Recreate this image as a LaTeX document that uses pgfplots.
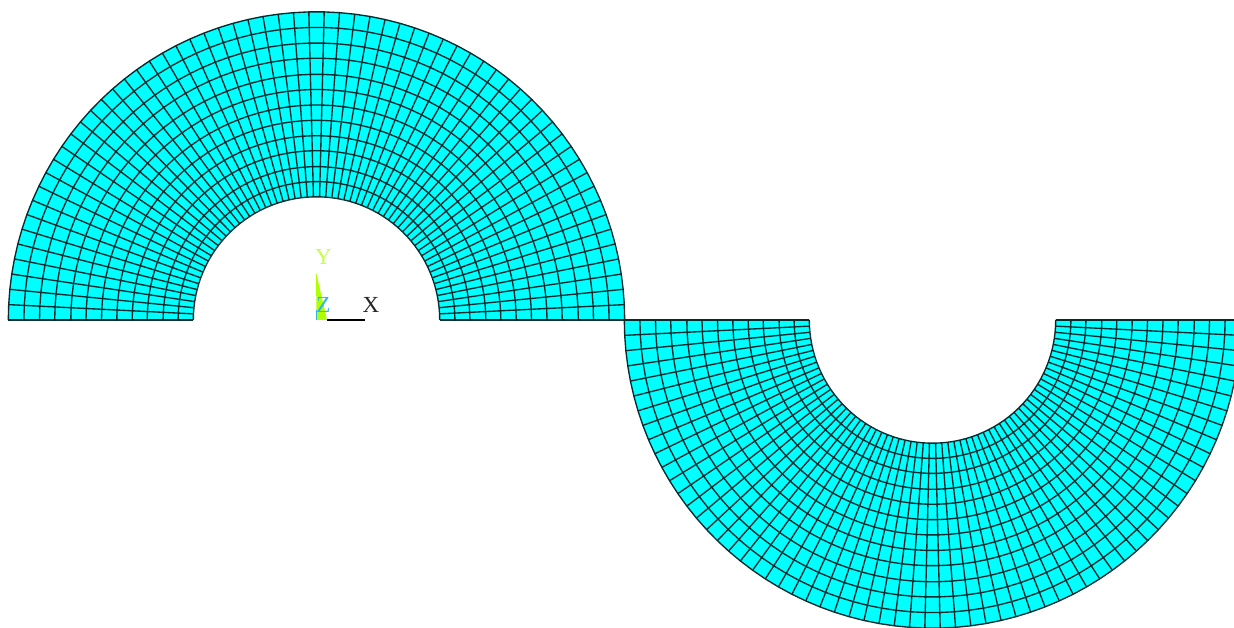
\documentclass[border=0pt]{standalone}
\usepackage{pgfplots}
\usepackage{pgfplotstable}
\usepackage{fontspec}
\setmainfont{Liberation Serif}
\pgfplotsset{compat=1.18}

% element boundaries along the half ring, degrees (63 elements)
\pgfplotstableread{
a
0
2.857
5.714
8.571
11.429
14.286
17.143
20
22.857
25.714
28.571
31.429
34.286
37.143
40
42.857
45.714
48.571
51.429
54.286
57.143
60
62.857
65.714
68.571
71.429
74.286
77.143
80
82.857
85.714
88.571
91.429
94.286
97.143
100
102.857
105.714
108.571
111.429
114.286
117.143
120
122.857
125.714
128.571
131.429
134.286
137.143
140
142.857
145.714
148.571
151.429
154.286
157.143
160
162.857
165.714
168.571
171.429
174.286
177.143
180
}\ringangles

% inner and outer radius, pixels
\pgfplotstableread{
r
123.2
308.2
}\radii

% white cover over the open side of the hole
\pgfplotstableread{
d
-122
122
}\holechord

% triad: green wedge, black x arm, blue z stub
\pgfplotstableread{
x y
316 356
316.5 308
327 308
}\ywedge
\pgfplotstableread{
x y
327 308
365 308
}\xarm
\pgfplotstableread{
x y
316 308
316 318
}\zarm

\definecolor{meshfill}{HTML}{00FFFF}
\definecolor{meshline}{HTML}{0A2A2E}
\definecolor{triady}{HTML}{AEFF00}
\definecolor{triadlabely}{HTML}{C4FF4A}
\definecolor{triadz}{HTML}{2FB4F0}

\newcommand{\halfring}[2]{%
  % #1 centre x, #2 +1 upper half, -1 lower half
  \addplot[fill=meshfill,draw=none,forget plot] table[x index=0,y index=0,
    x expr={#1+308.2*cos(\thisrow{a})},
    y expr={308+(#2)*308.2*sin(\thisrow{a})}] {\ringangles};
  \addplot[fill=white,draw=none,forget plot] table[x index=0,y index=0,
    x expr={#1+123.2*cos(\thisrow{a})},
    y expr={308+(#2)*123.2*sin(\thisrow{a})}] {\ringangles};
  \addplot[white,line width=2pt,forget plot] table[x index=0,y index=0,
    x expr={#1+\thisrow{d}},
    y expr={308}] {\holechord};
  \pgfplotsinvokeforeach{123.2,138.4,153.4,169.3,184.3,199.7,215,230.5,245.7,261.8,277,292.6,308.2}{
    \addplot[meshline,line width=1.35pt,forget plot] table[x index=0,y index=0,
      x expr={#1+##1*cos(\thisrow{a})},
      y expr={308+(#2)*##1*sin(\thisrow{a})}] {\ringangles};
  }
  \pgfplotsinvokeforeach{0,2.857,5.714,8.571,11.429,14.286,17.143,20,22.857,25.714,28.571,31.429,34.286,37.143,40,42.857,45.714,48.571,51.429,54.286,57.143,60,62.857,65.714,68.571,71.429,74.286,77.143,80,82.857,85.714,88.571,91.429,94.286,97.143,100,102.857,105.714,108.571,111.429,114.286,117.143,120,122.857,125.714,128.571,131.429,134.286,137.143,140,142.857,145.714,148.571,151.429,154.286,157.143,160,162.857,165.714,168.571,171.429,174.286,177.143,180}{
    \addplot[meshline,line width=1.35pt,forget plot] table[x index=0,y index=0,
      x expr={#1+\thisrow{r}*cos(##1)},
      y expr={308+(#2)*\thisrow{r}*sin(##1)}] {\radii};
  }
}

\begin{document}
\begin{tikzpicture}
  \begin{axis}[
      scale only axis,
      width=1234pt,
      height=628pt,
      xmin=0, xmax=1234,
      ymin=0, ymax=628,
      hide axis,
    ]
    \halfring{316.5}{1}
    \halfring{932.5}{-1}

    \addplot[fill=triady,draw=none,forget plot] table {\ywedge};
    \addplot[black,line width=1.25pt,forget plot] table {\xarm};
    \addplot[triadz,line width=1pt,forget plot] table {\zarm};

    \node[text=triadlabely,font=\fontsize{23}{23}\selectfont] at (axis cs:323.5,371) {Y};
    \node[text=triadz,font=\fontsize{23}{23}\selectfont] at (axis cs:323.5,323) {Z};
    \node[text=black!85,font=\fontsize{23}{23}\selectfont] at (axis cs:371,323) {X};
  \end{axis}
  \pgfresetboundingbox
  \path[use as bounding box] (0,0) rectangle (1234pt,628pt);
\end{tikzpicture}
\end{document}
